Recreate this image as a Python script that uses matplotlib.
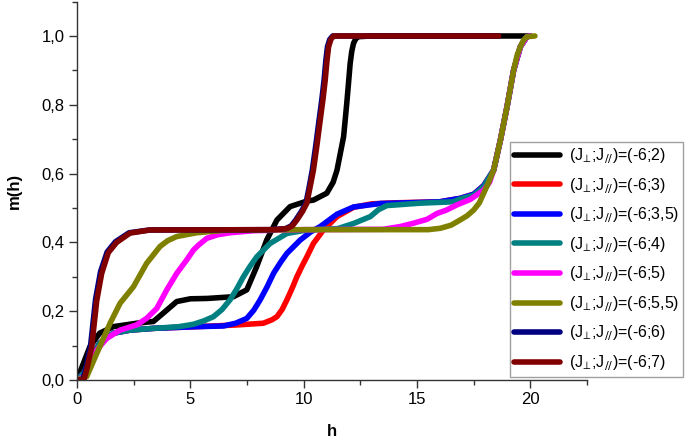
import matplotlib
matplotlib.use("Agg")
import matplotlib.pyplot as plt
from matplotlib.ticker import FuncFormatter, MultipleLocator

plt.rcParams["font.family"] = ["Liberation Sans", "DejaVu Sans"]
plt.rcParams["mathtext.fontset"] = "dejavusans"

# values (h, m(h)) per (J_perp; J_par) pair
labels = ["(-6;2)", "(-6;3)", "(-6;3,5)", "(-6;4)", "(-6;5)", "(-6;5,5)", "(-6;6)", "(-6;7)"]
colors = ["#000000", "#ff0000", "#0000ff", "#008080", "#ff00ff", "#808000", "#000080", "#800000"]

h_j2 = [0, 0.28, 0.57, 1.0, 1.6, 2.63, 3.37, 3.8, 4.4, 5.0, 5.73, 6.9, 7.49, 7.93, 8.37, 8.82,
        9.4, 10.14, 10.43, 11.02, 11.3, 11.47, 11.62, 11.76, 11.83, 11.9, 11.98, 12.05, 12.12,
        12.2, 12.3, 12.42, 13.0, 20.0]
m_j2 = [0, 0.048, 0.097, 0.136, 0.155, 0.165, 0.17, 0.194, 0.228, 0.236, 0.237, 0.242, 0.262, 0.33,
        0.407, 0.465, 0.504, 0.52, 0.523, 0.543, 0.575, 0.61, 0.66, 0.707, 0.755, 0.804, 0.865,
        0.92, 0.955, 0.979, 0.992, 0.998, 1.0, 1.0]

h_j3 = [0, 0.3, 0.57, 1.0, 1.6, 2.34, 3.37, 5.28, 7.05, 8.22, 8.6, 8.82, 9.05, 9.26, 9.5, 9.7,
        9.92, 10.14, 10.43, 10.87, 11.47, 12.2, 13.0, 14.0, 16.0, 16.9, 17.5, 17.94, 18.38, 18.68,
        18.97, 19.26, 19.56, 19.85, 20.0]
m_j3 = [0, 0.02, 0.058, 0.107, 0.136, 0.145, 0.15, 0.155, 0.16, 0.165, 0.175, 0.184, 0.205, 0.233,
        0.268, 0.30, 0.33, 0.358, 0.397, 0.436, 0.475, 0.502, 0.512, 0.515, 0.518, 0.528, 0.54,
        0.565, 0.61, 0.698, 0.794, 0.90, 0.969, 0.998, 1.0]

h_j35 = [0, 0.3, 0.57, 1.0, 1.6, 2.34, 3.37, 5.28, 6.46, 7.0, 7.49, 7.8, 8.08, 8.38, 8.67, 9.0,
         9.26, 9.85, 10.3, 10.73, 11.47, 12.2, 13.38, 14.5, 16.0, 16.9, 17.5, 17.94, 18.38, 18.68,
         18.97, 19.26, 19.56, 19.85, 20.0]
m_j35 = [0, 0.02, 0.058, 0.107, 0.136, 0.145, 0.15, 0.155, 0.157, 0.165, 0.179, 0.203, 0.233, 0.27,
         0.31, 0.344, 0.368, 0.407, 0.43, 0.446, 0.482, 0.503, 0.513, 0.515, 0.518, 0.528, 0.54,
         0.565, 0.61, 0.698, 0.794, 0.90, 0.969, 0.998, 1.0]

h_j4 = [0, 0.3, 0.57, 1.0, 1.6, 2.34, 3.37, 4.5, 5.14, 5.6, 6.02, 6.4, 6.75, 7.05, 7.34, 7.63,
        7.93, 8.52, 9.26, 10.14, 11.5, 12.2, 12.94, 13.3, 13.67, 15.14, 16.6, 16.9, 17.5, 17.94,
        18.38, 18.68, 18.97, 19.26, 19.56, 19.85, 20.0]
m_j4 = [0, 0.02, 0.058, 0.107, 0.136, 0.145, 0.15, 0.155, 0.162, 0.172, 0.184, 0.205, 0.233, 0.265,
        0.30, 0.33, 0.358, 0.397, 0.426, 0.436, 0.44, 0.455, 0.475, 0.495, 0.507, 0.514, 0.518,
        0.526, 0.537, 0.562, 0.61, 0.698, 0.794, 0.90, 0.969, 0.998, 1.0]

h_j5 = [0, 0.3, 0.5, 0.87, 1.31, 1.9, 2.63, 3.07, 3.52, 3.96, 4.4, 4.84, 5.14, 5.36, 5.73, 6.2,
        6.75, 7.78, 10.0, 13.5, 14.26, 14.8, 15.44, 15.88, 16.3, 16.76, 17.35, 17.94, 18.2, 18.38,
        18.68, 18.97, 19.26, 19.56, 19.85, 20.0]
m_j5 = [0, 0.01, 0.029, 0.087, 0.121, 0.145, 0.16, 0.179, 0.208, 0.262, 0.31, 0.349, 0.378, 0.392,
        0.412, 0.422, 0.428, 0.434, 0.437, 0.438, 0.446, 0.455, 0.467, 0.484, 0.494, 0.509, 0.525,
        0.552, 0.575, 0.61, 0.698, 0.794, 0.90, 0.969, 0.998, 1.0]

h_j55 = [0, 0.43, 0.87, 1.46, 1.9, 2.49, 3.07, 3.66, 4.0, 4.4, 5.28, 6.5, 10.0, 15.5, 16.03, 16.5,
         16.9, 17.2, 17.5, 17.75, 17.94, 18.15, 18.38, 18.68, 18.97, 19.26, 19.42, 19.56, 19.7,
         19.85, 20.2]
m_j55 = [0, 0.01, 0.077, 0.165, 0.223, 0.271, 0.339, 0.388, 0.405, 0.417, 0.428, 0.435, 0.437, 0.437,
         0.441, 0.45, 0.465, 0.477, 0.494, 0.515, 0.543, 0.573, 0.61, 0.698, 0.794, 0.90, 0.945,
         0.969, 0.988, 0.998, 1.0]

h_j6 = [0, 0.25, 0.38, 0.6, 0.82, 1.04, 1.33, 1.7, 2.3, 3.2, 8.6, 9.2, 9.45, 9.65, 9.9, 10.1,
        10.24, 10.38, 10.53, 10.68, 10.8, 10.9, 10.98, 11.05, 11.15, 11.28, 18.6]
m_j6 = [0, 0.0, 0.03, 0.10, 0.235, 0.315, 0.372, 0.402, 0.428, 0.436, 0.437, 0.44, 0.448, 0.465,
        0.49, 0.514, 0.56, 0.61, 0.68, 0.756, 0.815, 0.872, 0.93, 0.969, 0.99, 1.0, 1.0]

h_j7 = [0, 0.3, 0.43, 0.65, 0.87, 1.09, 1.38, 1.75, 2.34, 3.2, 8.65, 9.26, 9.5, 9.7, 9.95, 10.14,
        10.28, 10.43, 10.58, 10.73, 10.85, 10.95, 11.03, 11.1, 11.2, 11.32, 18.6]
m_j7 = [0, 0.0, 0.03, 0.097, 0.23, 0.31, 0.37, 0.40, 0.427, 0.436, 0.437, 0.44, 0.448, 0.465,
        0.49, 0.514, 0.56, 0.61, 0.68, 0.756, 0.815, 0.872, 0.93, 0.969, 0.99, 1.0, 1.0]

series_h = [h_j2, h_j3, h_j35, h_j4, h_j5, h_j55, h_j6, h_j7]
series_m = [m_j2, m_j3, m_j35, m_j4, m_j5, m_j55, m_j6, m_j7]

fig = plt.figure(figsize=(6.85, 4.4), dpi=100)
ax = fig.add_axes([0.1124, 0.1364, 0.7446, 0.86])

for hs, ms, lab, col in zip(series_h, series_m, labels, colors):
    ax.plot(hs, ms, color=col, linewidth=4, solid_capstyle="round", solid_joinstyle="round",
            label=r"(J$_{\!\perp\!}$;J$_{//}$)=" + lab)

ax.set_xlim(0, 22.5)
ax.set_ylim(0, 1.1)
ax.xaxis.set_major_locator(MultipleLocator(5))
ax.xaxis.set_minor_locator(MultipleLocator(2.5))
ax.yaxis.set_major_locator(MultipleLocator(0.2))
ax.yaxis.set_minor_locator(MultipleLocator(0.1))
ax.yaxis.set_major_formatter(FuncFormatter(lambda v, p: f"{v:.1f}".replace(".", ",")))
ax.xaxis.set_major_formatter(FuncFormatter(lambda v, p: f"{v:.0f}"))

for side in ("top", "right"):
    ax.spines[side].set_visible(False)
for side in ("left", "bottom"):
    ax.spines[side].set_color("#333333")
    ax.spines[side].set_linewidth(1.0)
ax.tick_params(which="major", length=6, width=1, color="#333333", labelsize=12, pad=3)
ax.tick_params(which="minor", length=3.5, width=1, color="#333333")

ax.set_xlabel("h", fontsize=12, fontweight="bold", labelpad=12)
ax.set_ylabel("m(h)", fontsize=12, fontweight="bold", labelpad=14)

leg = ax.legend(loc="upper left", bbox_to_anchor=(510 / 685, 1 - 142 / 440),
                bbox_transform=fig.transFigure, borderaxespad=0, fontsize=11.5,
                handlelength=2.9, handletextpad=0.55, labelspacing=0.6, borderpad=0.25,
                fancybox=False, framealpha=1, edgecolor="#a0a0a0")
leg.get_frame().set_linewidth(1.0)

fig.savefig("out.png", dpi=100)
